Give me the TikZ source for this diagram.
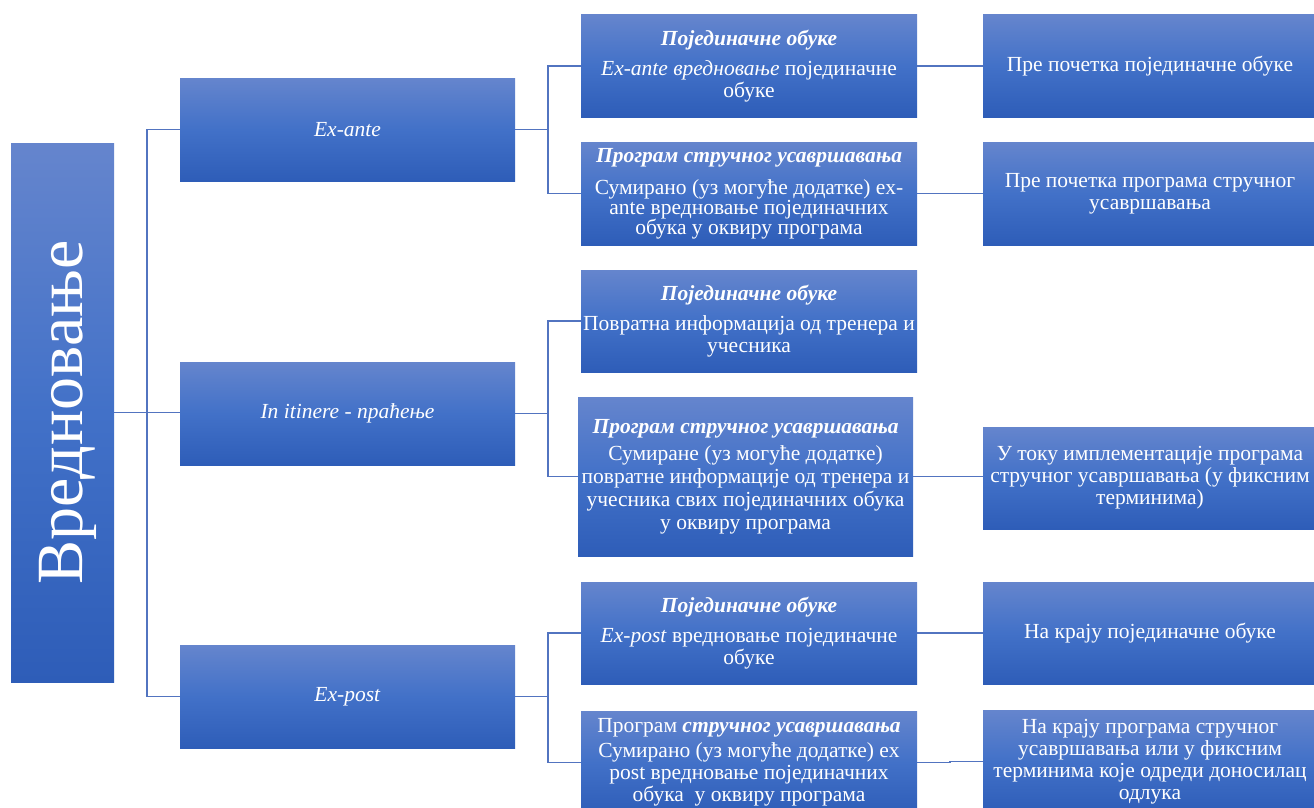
\documentclass[tikz,border=0pt]{standalone}
\usepackage{fontspec}
\setmainfont{Liberation Serif}
\definecolor{gtop}{RGB}{101,133,205}
\definecolor{gmid}{RGB}{66,113,200}
\definecolor{gbot}{RGB}{46,93,184}
\definecolor{lineblue}{RGB}{82,116,192}
\tikzset{
  box/.style={inner sep=0pt, outer sep=0pt, anchor=north west, draw=none,
    top color=gtop, bottom color=gbot, middle color=gmid,
    text=white, align=center, font=\fontsize{21.5}{22}\selectfont},
  conn/.style={draw=lineblue, line width=1.2pt}
}
\newcommand{\bi}[1]{\textbf{\textit{#1}}}
\begin{document}
\begin{tikzpicture}[x=1pt,y=-1pt]
\useasboundingbox (0,0) rectangle (1314,808);
\clip (0,0) rectangle (1314,808);
% root
\node[box, minimum width=103pt, minimum height=539pt] (root) at (11,143)
  {\hspace*{10pt}\rotatebox{90}{\fontsize{66}{70}\selectfont Вредновање}};
% level 1
\node[box, minimum width=335pt, minimum height=103pt] (L1a) at (180,78) {\textit{Ex-ante}};
\node[box, minimum width=335pt, minimum height=103pt] (L1b) at (180,362) {\textit{In itinere - праћење}};
\node[box, minimum width=335pt, minimum height=103pt] (L1c) at (180,645) {\textit{Ex-post}};
% level 2
\node[box, minimum width=336pt, minimum height=102pt] (A1) at (581,15)
  {\bi{Појединачне обуке}\\[8pt]\textit{Ex-ante вредновање} појединачне\\обуке};
\node[box, minimum width=336pt, minimum height=103pt, font=\fontsize{21.5}{20}\selectfont] (A2) at (581,142)
  {\bi{Програм стручног усавршавања}\\[12pt]Сумирано (уз могуће додатке) ex-\\ante вредновање појединачних\\обука у оквиру програма};
\node[box, minimum width=336pt, minimum height=102pt] (B1) at (581,270)
  {\bi{Појединачне обуке}\\[8pt]Повратна информација од тренера и\\учесника};
\node[box, minimum width=335pt, minimum height=159pt, font=\fontsize{21.5}{23}\selectfont] (B2) at (578,397)
  {\bi{Програм стручног усавршавања}\\[4pt]Сумиране (уз могуће додатке)\\повратне информације од тренера и\\учесника свих појединачних обука\\у оквиру програма};
\node[box, minimum width=336pt, minimum height=102pt] (C1) at (581,582)
  {\bi{Појединачне обуке}\\[8pt]\textit{Ex-post} вредновање појединачне\\обуке};
\node[box, minimum width=336pt, minimum height=103pt] (C2) at (581,711)
  {Програм \bi{стручног усавршавања}\\[3pt]Сумирано (уз могуће додатке) ex\\post вредновање појединачних\\обука\ \ у оквиру програма};
% level 3
\node[box, minimum width=334pt, minimum height=102pt] (D1) at (983,15)
  {Пре почетка појединачне обуке};
\node[box, minimum width=334pt, minimum height=103pt] (D2) at (983,142)
  {Пре почетка програма стручног\\усавршавања};
\node[box, minimum width=334pt, minimum height=102pt] (D3) at (983,427)
  {У току имплементације програма\\стручног усавршавања (у фиксним\\терминима)};
\node[box, minimum width=334pt, minimum height=102pt] (D4) at (983,582)
  {На крају појединачне обуке};
\node[box, minimum width=334pt, minimum height=103pt] (D5) at (983,710)
  {На крају програма стручног\\усавршавања или у фиксним\\терминима које одреди доносилац\\одлука};
% connectors root -> level 1
\draw[conn] (root.east) -- (root.east -| L1b.west);
\draw[conn] (L1a.west) -- ++(-33,0) |- (L1c.west);
% level 1 -> level 2
\draw[conn] (L1a.east) -- ++(33,0);
\draw[conn] (A1.west) -- ++(-33,0) |- (A2.west);
\draw[conn] (L1b.east) -- ++(33,0);
\draw[conn] (B1.west) -- ++(-33,0) |- (B2.west);
\draw[conn] (L1c.east) -- ++(33,0);
\draw[conn] (C1.west) -- ++(-33,0) |- (C2.west);
% level 2 -> level 3
\draw[conn] (A1.east) -- (A1.east -| D1.west);
\draw[conn] (A2.east) -- (A2.east -| D2.west);
\draw[conn] (B2.east) -- (B2.east -| D3.west);
\draw[conn] (C1.east) -- (C1.east -| D4.west);
\draw[conn] (C2.east) -- ++(33,0) |- (D5.west);
\end{tikzpicture}
\end{document}
